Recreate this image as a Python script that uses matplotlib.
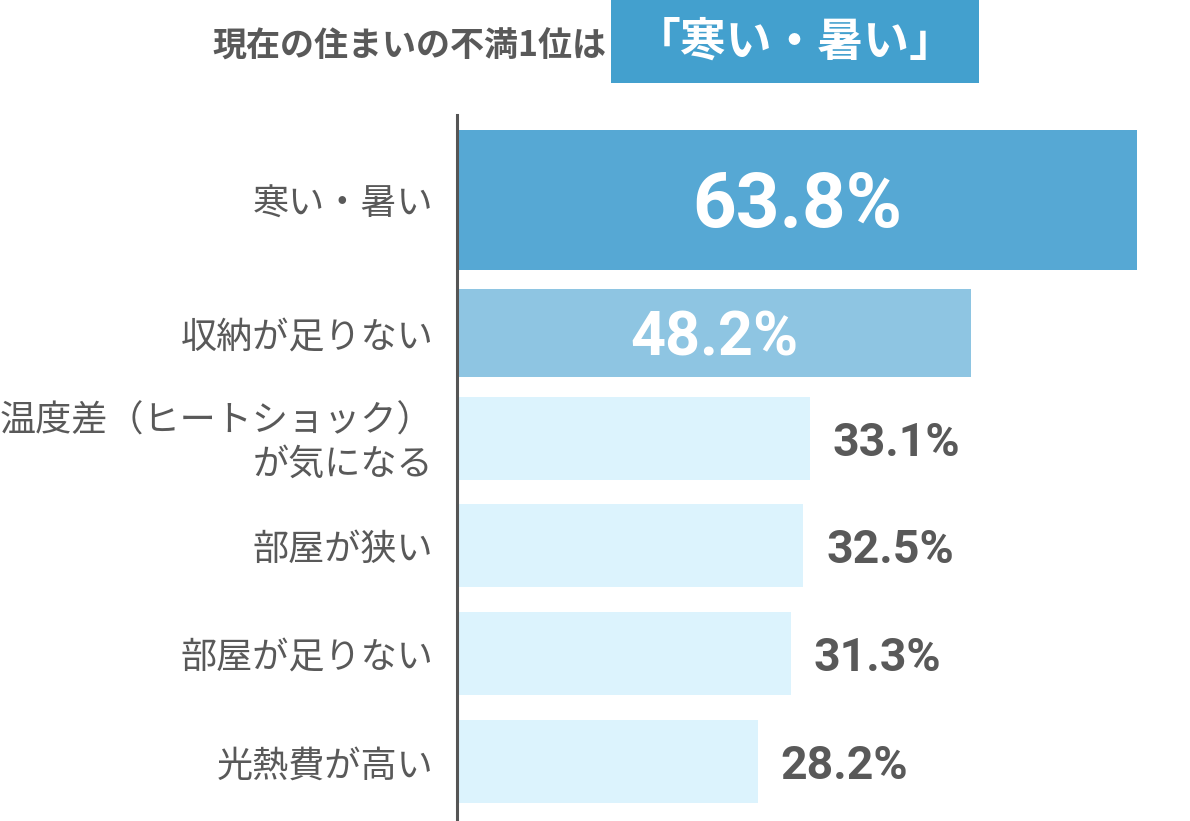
import matplotlib.pyplot as plt
from matplotlib.patches import Rectangle

# データ
categories = ['寒い・暑い', '収納が足りない', '温度差（ヒートショック）\nが気になる',
              '部屋が狭い', '部屋が足りない', '光熱費が高い']
values = [63.8, 48.2, 33.1, 32.5, 31.3, 28.2]
value_labels = ['63.8%', '48.2%', '33.1%', '32.5%', '31.3%', '28.2%']
title_text = '現在の住まいの不満1位は'
highlight_text = '「寒い・暑い」'

# レイアウト (ピクセル基準)
bar_centers = [200, 333.5, 438.5, 545.5, 653.5, 762]
bar_heights = [140, 88, 83, 83, 83, 83]
bar_colors = ['#56a8d4', '#8ec5e2', '#dcf3fd', '#dcf3fd', '#dcf3fd', '#dcf3fd']
inside = [True, True, False, False, False, False]
value_sizes = [55, 44, 33.5, 33.5, 33.5, 33.5]

W, H = 1190, 821
gray = '#595959'
jp = ['Noto Sans CJK JP', 'DejaVu Sans']
num = ['Roboto', 'DejaVu Sans']

fig = plt.figure(figsize=(W / 100, H / 100), dpi=100)
ax = fig.add_axes([457 / W, 1 - 820 / H, (W - 457) / W, (820 - 115) / H])
ax.set_xlim(0, (W - 457) / 10.66)
ax.set_ylim(820, 115)

ax.barh(bar_centers, values, height=bar_heights, color=bar_colors, align='center')

for spine in ['top', 'right', 'bottom']:
    ax.spines[spine].set_visible(False)
ax.spines['left'].set_color('#555555')
ax.spines['left'].set_linewidth(2.2)
ax.set_xticks([])
ax.set_yticks([])

# カテゴリラベル
for y, cat in zip(bar_centers, categories):
    ax.annotate(cat, xy=(0, y), xytext=(-17, -3.5), textcoords='offset points',
                ha='right', va='center', multialignment='right',
                fontsize=26, color=gray, family=jp, linespacing=1.24,
                annotation_clip=False)

# 値ラベル
for y, v, lab, ins, fs in zip(bar_centers, values, value_labels, inside, value_sizes):
    dy = -fs * 0.09
    if ins:
        ax.annotate(lab, xy=(v / 2, y), xytext=(0, dy), textcoords='offset points',
                    ha='center', va='center', fontsize=fs,
                    color='white', fontweight='bold', family=num)
    else:
        ax.annotate(lab, xy=(v, y), xytext=(16.5, dy), textcoords='offset points',
                    ha='left', va='center', fontsize=fs, color=gray,
                    fontweight='bold', family=num, annotation_clip=False)

# タイトル
fig.text(606 / W, 1 - 46 / H, title_text, ha='right', va='center',
         fontsize=24.5, fontweight='bold', color=gray, family=jp)
fig.add_artist(Rectangle((611 / W, 1 - 83 / H), (979 - 611) / W, 83 / H,
                         transform=fig.transFigure, color='#43a0ce', lw=0))
fig.text(795 / W, 1 - 43 / H, highlight_text, ha='center', va='center',
         fontsize=33, fontweight='bold', color='white', family=jp)

fig.savefig('out.png', dpi=100, facecolor='white')
